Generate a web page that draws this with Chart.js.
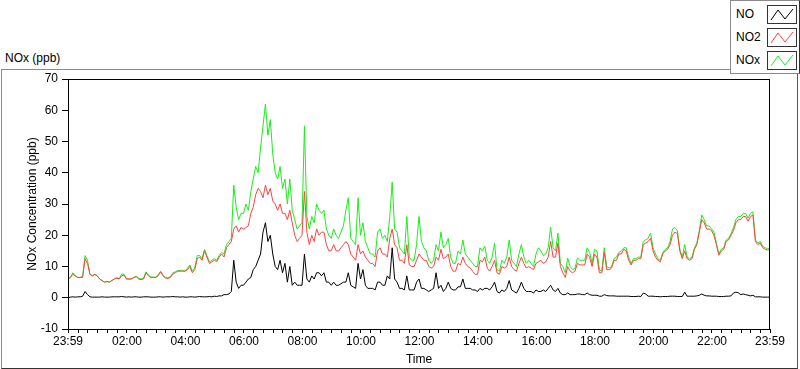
<!DOCTYPE html>
<html>
<head>
<meta charset="utf-8">
<script src="https://cdn.jsdelivr.net/npm/chart.js@4.4.1/dist/chart.umd.min.js"></script>
<style>
  body { margin: 0; background: #fff; font-family: "Liberation Sans", Arial, sans-serif; }
  #wrap { position: relative; width: 800px; height: 369px; overflow: hidden; }
  #frame { position: absolute; left: 1px; top: 69px; width: 795px; height: 298px;
           border: 1px solid #8a8a8a; border-right-color: #555; border-bottom-color: #333; }
  #chartTitle { position: absolute; left: 5px; top: 51px; font-size: 12px; color: #000; }
  #legend { position: absolute; left: 730px; top: 0; width: 68px; height: 72px;
            background: #fff; border: 1px solid #8a8a8a; border-right-color: #333; z-index: 2; }
  .item { position: absolute; left: 5px; font-size: 12px; color: #000; }
  .icon { position: absolute; left: 36px; width: 30px; height: 19px; }
  canvas { position: absolute; left: 0; top: 0; }
</style>
</head>
<body>
<div id="wrap">
  <div id="frame"></div>
  <div id="chartTitle">NOx (ppb)</div>
  <div id="legend"></div>
  <canvas id="chart" width="800" height="369"></canvas>
</div>
<script>
// 5-minute samples, one row per hour starting at 23:59
var sampleStep = 5;

var seriesNames = ['NO', 'NO2', 'NOx'];
var seriesColors = ['#000000', '#ff4040', '#19ee19'];

var noValues = [
  0, 0.2, 0.3, 0.2, 0.3, 0.3, 0.5, 2, 1, 0.3, 0.2, 0.2,
  0.2, 0.2, 0.3, 0.2, 0.2, 0.2, 0.3, 0.3, 0.3, 0.3, 0.4, 0.3,
  0.2, 0.3, 0.2, 0.3, 0.3, 0.2, 0.2, 0.3, 0.3, 0.3, 0.2, 0.2,
  0.2, 0.3, 0.3, 0.2, 0.3, 0.3, 0.3, 0.4, 0.3, 0.3, 0.2, 0.3,
  0.2, 0.2, 0.3, 0.3, 0.2, 0.3, 0.4, 0.3, 0.3, 0.3, 0.4, 0.3,
  0.5, 0.4, 0.6, 0.6, 1, 1, 1.2, 2, 12, 5, 3, 4,
  4, 5, 6, 6.5, 9, 10, 12, 14, 21, 24, 18, 20,
  14, 10, 9, 12, 8, 11, 5, 10, 4, 5, 4, 4,
  4, 14, 6, 5, 7, 6, 8, 8, 7, 8, 5, 5,
  4, 5, 4, 4, 4.5, 5, 5, 8, 4, 3.5, 3, 11,
  6, 9, 4, 3, 3, 3, 2.5, 5, 5, 4, 4, 7,
  6, 16, 6, 5, 3, 3, 2.5, 7, 2.5, 2.5, 2.5, 5,
  6, 3, 3, 2.5, 2, 2.5, 3, 8, 3, 4, 2, 3,
  5, 3, 2.5, 2.5, 3.5, 3.5, 6, 3, 3, 3, 2.5, 2.5,
  2, 3, 2.5, 3, 3, 2.5, 3.5, 5, 2, 1.5, 2.5, 2,
  3, 5.5, 2.5, 2, 1.5, 3, 5, 3, 2, 2, 2, 1.5,
  2.5, 2, 2, 2.5, 2, 3, 4, 2.5, 2, 3, 1.5, 1,
  1, 1.5, 1, 1, 1, 1.2, 1.2, 1, 1, 1.5, 1, 0.8,
  0.8, 0.8, 0.5, 0.5, 1, 0.7, 0.6, 0.6, 0.6, 0.5, 0.5, 0.5,
  0.5, 0.5, 0.5, 0.4, 0.4, 0.4, 0.5, 0.4, 1.5, 1.2, 0.5, 0.5,
  0.5, 0.4, 0.4, 0.3, 0.4, 0.4, 0.4, 0.5, 0.5, 0.5, 0.4, 0.4,
  0.4, 1.8, 0.5, 0.5, 0.5, 0.5, 0.6, 0.8, 1.2, 0.8, 0.6, 0.6,
  0.5, 0.5, 0.5, 0.4, 0.4, 0.4, 0.5, 0.5, 0.6, 1.5, 1.8, 1.6,
  1, 1.2, 1, 0.8, 0.6, 0.8, 0.3, 0.3, 0.3, 0.2, 0.2, 0.2, 0.2
];

var no2Values = [
  6, 6.5, 7.5, 7, 6.5, 6.5, 6.5, 12.5, 11, 7.5, 7, 7.5,
  7, 6, 5.5, 5, 5.2, 5, 5.5, 6, 6.2, 6, 7, 7.3,
  6, 6, 6, 6.5, 6.7, 6, 5.8, 6, 8, 7, 6.5, 6.5,
  6.5, 7, 8.3, 7, 6.3, 6.2, 6.5, 7.5, 8, 8.5, 8.5, 8.5,
  8.5, 9, 10, 8, 9, 12.5, 13, 12, 15, 13, 11, 11.5,
  12, 11.5, 13, 14, 13, 16, 17, 18, 22, 23, 21, 22.5,
  22, 22.5, 23, 27, 29, 33, 35, 34, 32, 36, 33, 35,
  31, 30, 28, 30, 27, 27, 25, 28, 24, 20, 18, 19,
  20, 34, 21, 17, 20, 18, 22, 20, 21, 21, 17, 15,
  15, 17, 15, 15, 16, 17, 18, 17, 14, 13, 12, 17,
  14, 15, 13, 12, 11, 11, 10, 15, 16, 14, 14, 13,
  19, 22, 17, 16, 12, 12, 11, 17, 10.5, 10, 10, 12,
  14, 13, 12, 12, 10, 9.5, 10, 13, 12, 15.5, 12.5, 13,
  14, 10, 8.5, 8.5, 11, 10.5, 13, 11, 10, 9.5, 8.5, 7.5,
  7.5, 12, 11.5, 13, 9.5, 8.5, 10, 12, 8, 7.5, 10, 9.5,
  10, 13, 10, 9, 8.5, 11, 13, 11, 9.5, 10, 9.5, 9,
  11, 11.5, 12, 11, 11.5, 13, 18, 13, 13, 17.5, 10, 8,
  6.5, 10, 8.5, 8, 8.5, 11, 10.5, 10.5, 10.5, 14, 13, 10,
  14, 13, 8, 8, 14.5, 9, 9, 9.5, 12, 12, 14, 14,
  15.5, 15, 12, 10.5, 12, 12, 12.5, 12.5, 17, 17.5, 18, 19,
  15, 13, 12, 11.5, 14, 15, 15.5, 17, 20, 21, 20.5, 15,
  12.5, 15, 12.5, 12, 12.5, 15.5, 17, 21, 25, 24, 22, 22,
  21.5, 20, 17, 13.6, 15, 15.5, 18, 18.5, 20, 21.5, 24, 25,
  25, 26, 26, 24.5, 26, 26.5, 18, 17, 17.5, 16, 15.5, 15.3, 15.5
];

var noxValues = [
  6, 6.5, 8, 7, 6.5, 6.5, 7, 13.5, 12, 7.5, 7, 7.5,
  7, 6, 5.5, 5, 5.2, 5, 5.5, 6, 6.5, 6, 7.6, 7.5,
  6, 6, 6, 6.5, 7, 6.2, 6, 6.3, 8.3, 7.2, 6.6, 6.6,
  6.6, 7.3, 8.5, 7.2, 6.5, 6.4, 6.7, 8, 8.3, 8.7, 8.7, 8.8,
  8.5, 9.5, 10.5, 8.5, 9.5, 13.5, 13.5, 12.5, 15.5, 13.5, 11.5, 12,
  12.5, 12, 13.5, 14.5, 14, 17, 18, 19, 36, 29, 25, 27,
  27, 30, 28, 34, 38, 42, 40, 48, 55, 62, 52, 57,
  46, 40, 38, 42, 35, 38, 30, 38, 28, 25, 22, 23,
  24, 55, 26, 22, 26, 24, 30, 28, 27, 28, 22, 20,
  19, 22, 20, 19, 21, 23, 28, 32, 19, 18, 17, 32,
  20, 24, 18, 16, 14, 14, 13, 21, 22, 19, 20, 18,
  26, 37, 22, 21, 16, 15, 14, 26, 13, 12, 12, 17,
  26, 18, 16, 15, 12, 11, 12, 17, 15, 21, 16, 17,
  19, 13, 11, 11, 15, 14, 18.5, 14, 13, 12, 11, 10,
  10, 16, 15, 16.5, 12, 11, 13, 17.5, 9, 8.5, 12, 11,
  13, 18.5, 12, 11, 10, 14, 17, 13, 11, 12, 11, 10,
  14, 16, 15, 13.5, 14, 16, 22.6, 16, 15, 20.7, 11, 10,
  8, 12.7, 10, 9, 9.5, 12.7, 12, 12, 12, 16, 14.5, 11,
  15.5, 15, 9, 8.5, 16, 10, 9.5, 10, 12.5, 13, 14.5, 15,
  16, 16, 13, 11, 12.5, 12.5, 13, 13, 18, 18.5, 19, 20.7,
  16, 14, 12.5, 12, 14.5, 15.5, 16, 18, 22, 22.5, 21.5, 15.5,
  13, 17, 13, 12.5, 13, 16, 17.5, 21.5, 26.5, 25, 23, 23,
  22, 21, 17.5, 14, 15.5, 16, 18.5, 19, 20.5, 22.5, 25, 26,
  26, 27, 27, 25.5, 27, 27.5, 18.5, 17.5, 18, 16.5, 16, 15.7, 16
];

// x axis: minutes after 23:59
var tickMinutes = [0, 121, 241, 361, 481, 601, 721, 841, 961, 1081, 1201, 1321, 1440];
var tickLabels = ['23:59', '02:00', '04:00', '06:00', '08:00', '10:00', '12:00',
                  '14:00', '16:00', '18:00', '20:00', '22:00', '23:59'];

function toPoints(values) {
  return values.map(function(v, i) { return { x: i * sampleStep, y: v }; });
}

// legend box (top right)
var legendEl = document.getElementById('legend');
seriesNames.forEach(function(name, i) {
  var top = 4 + i * 23;
  legendEl.innerHTML +=
    '<div class="item" style="top:' + (top + 2) + 'px">' + name + '</div>' +
    '<svg class="icon" style="top:' + top + 'px" width="30" height="19">' +
    '<rect x="0.5" y="0.5" width="29" height="18" fill="#fff" stroke="#333"/>' +
    '<polyline points="4,15 11,5 18,14 26,4" fill="none" stroke="' + seriesColors[i] + '" stroke-width="1"/>' +
    '</svg>';
});

var plotBorder = {
  id: 'plotBorder',
  afterDraw: function(chart) {
    var a = chart.chartArea, ctx = chart.ctx;
    ctx.save();
    ctx.strokeStyle = '#000';
    ctx.lineWidth = 1;
    ctx.strokeRect(Math.round(a.left) + 0.5, Math.round(a.top) + 0.5,
                   Math.round(a.right - a.left) - 1, Math.round(a.bottom - a.top));
    ctx.restore();
  }
};

var allValues = [noValues, no2Values, noxValues];
var datasets = allValues.map(function(vals, i) {
  return {
    label: seriesNames[i],
    data: toPoints(vals),
    borderColor: seriesColors[i],
    borderWidth: 1,
    pointRadius: 0,
    tension: 0,
    fill: false
  };
});

new Chart(document.getElementById('chart'), {
  type: 'line',
  data: { datasets: datasets },
  options: {
    responsive: false,
    animation: false,
    layout: { padding: { top: 79, right: 30, left: 25, bottom: 0 } },
    plugins: { legend: { display: false }, tooltip: { enabled: false } },
    scales: {
      x: {
        type: 'linear',
        min: 0,
        max: 1440,
        afterFit: function(s) { s.height = 40; },
        afterBuildTicks: function(s) {
          var list = [];
          for (var m = 1; m < 1440; m += 20) list.push(m);
          list[0] = 0;
          list.push(1440);
          s.ticks = list.map(function(v) { return { value: v }; });
        },
        ticks: {
          color: '#000',
          font: { family: 'Liberation Sans', size: 12 },
          autoSkip: false,
          maxRotation: 0,
          padding: 1,
          callback: function(v) {
            var k = tickMinutes.indexOf(v);
            return k >= 0 ? tickLabels[k] : '';
          }
        },
        grid: { drawOnChartArea: false, color: '#000', tickLength: 4 },
        border: { color: '#000' },
        title: {
          display: true, text: 'Time', color: '#000',
          font: { family: 'Liberation Sans', size: 12 },
          padding: { top: 0, bottom: 2 }
        }
      },
      y: {
        min: -10,
        max: 70,
        afterFit: function(s) { s.width = 43; },
        ticks: {
          stepSize: 10,
          color: '#000',
          font: { family: 'Liberation Sans', size: 12 },
          padding: 4
        },
        grid: { drawOnChartArea: false, color: '#000', tickLength: 6 },
        border: { color: '#000' },
        title: {
          display: true, text: 'NOx Concentration (ppb)', color: '#000',
          font: { family: 'Liberation Sans', size: 12 },
          padding: { top: 0, bottom: 0 }
        }
      }
    }
  },
  plugins: [plotBorder]
});
</script>
</body>
</html>
